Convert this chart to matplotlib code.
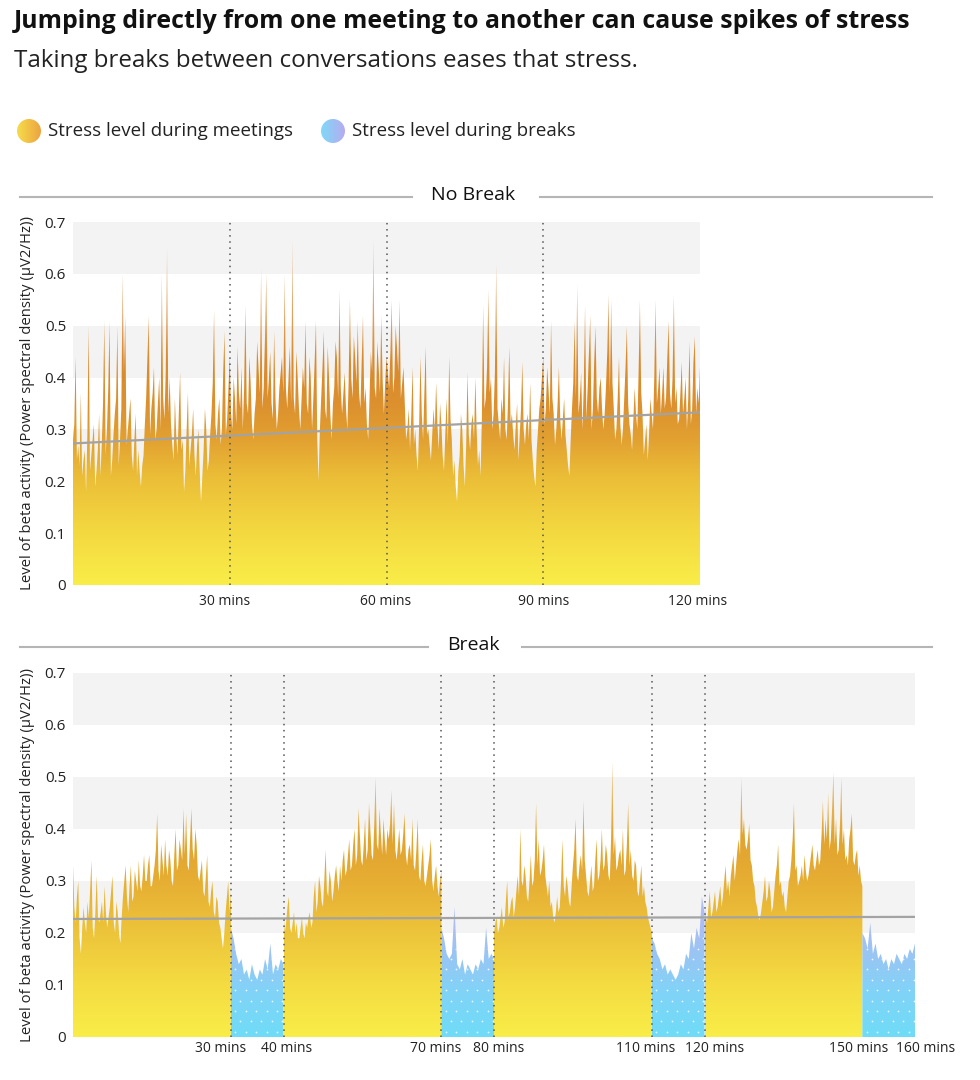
import numpy as np
import matplotlib.pyplot as plt
from matplotlib.colors import LinearSegmentedColormap
from matplotlib.lines import Line2D
from matplotlib.patches import Circle
from matplotlib.transforms import ScaledTranslation, blended_transform_factory

plt.rcParams['font.family'] = ['Open Sans', 'DejaVu Sans']

title = "Jumping directly from one meeting to another can cause spikes of stress"
subtitle = "Taking breaks between conversations eases that stress."
legend_labels = ["Stress level during meetings", "Stress level during breaks"]
ylabel = "Level of beta activity (Power spectral density (\u03bcV2/Hz))"

# ---- No Break panel: beta activity every quarter minute, 0..120 min
no_break = [
    0.28, 0.31, 0.44, 0.24, 0.27, 0.23, 0.37, 0.21, 0.24, 0.26, 0.18, 0.29, 0.50, 0.22, 0.25, 0.28, 0.31, 0.19, 0.22, 0.26,
    0.33, 0.21, 0.27, 0.35, 0.51, 0.25, 0.30, 0.38, 0.51, 0.21, 0.24, 0.29, 0.33, 0.36, 0.50, 0.23, 0.28, 0.34, 0.60, 0.41,
    0.52, 0.27, 0.30, 0.33, 0.36, 0.25, 0.22, 0.28, 0.33, 0.21, 0.26, 0.22, 0.19, 0.23, 0.25, 0.31, 0.36, 0.44, 0.52, 0.29,
    0.34, 0.37, 0.42, 0.28, 0.30, 0.35, 0.40, 0.30, 0.60, 0.36, 0.32, 0.41, 0.65, 0.33, 0.40, 0.31, 0.27, 0.24, 0.36, 0.29,
    0.25, 0.33, 0.41, 0.26, 0.28, 0.18, 0.22, 0.30, 0.37, 0.23, 0.26, 0.29, 0.34, 0.25, 0.21, 0.27, 0.30, 0.22, 0.16, 0.21,
    0.26, 0.34, 0.30, 0.22, 0.24, 0.29, 0.33, 0.39, 0.53, 0.31, 0.28, 0.33, 0.36, 0.27, 0.30, 0.41, 0.49, 0.29, 0.32, 0.38,
    0.44, 0.33, 0.30, 0.40, 0.36, 0.31, 0.46, 0.37, 0.34, 0.42, 0.30, 0.38, 0.54, 0.35, 0.33, 0.44, 0.39, 0.31, 0.28, 0.33,
    0.36, 0.47, 0.42, 0.37, 0.61, 0.34, 0.38, 0.48, 0.60, 0.36, 0.40, 0.45, 0.35, 0.32, 0.49, 0.36, 0.30, 0.33, 0.38, 0.41,
    0.44, 0.37, 0.60, 0.38, 0.34, 0.40, 0.46, 0.35, 0.665, 0.36, 0.33, 0.45, 0.40, 0.34, 0.30, 0.36, 0.42, 0.38, 0.51, 0.35,
    0.33, 0.44, 0.40, 0.30, 0.36, 0.43, 0.51, 0.28, 0.20, 0.30, 0.36, 0.42, 0.49, 0.34, 0.32, 0.46, 0.40, 0.33, 0.28, 0.35,
    0.38, 0.47, 0.44, 0.36, 0.57, 0.38, 0.33, 0.37, 0.41, 0.34, 0.30, 0.39, 0.55, 0.40, 0.36, 0.48, 0.44, 0.39, 0.51, 0.37,
    0.34, 0.43, 0.52, 0.35, 0.38, 0.31, 0.28, 0.36, 0.45, 0.41, 0.665, 0.38, 0.36, 0.47, 0.42, 0.37, 0.52, 0.40, 0.33, 0.39,
    0.44, 0.41, 0.38, 0.45, 0.55, 0.37, 0.40, 0.50, 0.46, 0.41, 0.55, 0.36, 0.39, 0.42, 0.35, 0.28, 0.30, 0.34, 0.26, 0.33,
    0.42, 0.27, 0.30, 0.25, 0.22, 0.31, 0.44, 0.33, 0.28, 0.37, 0.46, 0.29, 0.30, 0.27, 0.24, 0.29, 0.34, 0.30, 0.39, 0.31,
    0.26, 0.35, 0.31, 0.25, 0.22, 0.29, 0.36, 0.27, 0.44, 0.32, 0.28, 0.21, 0.24, 0.19, 0.16, 0.22, 0.25, 0.33, 0.30, 0.23,
    0.19, 0.27, 0.41, 0.29, 0.26, 0.31, 0.33, 0.28, 0.40, 0.30, 0.23, 0.26, 0.21, 0.32, 0.54, 0.34, 0.36, 0.42, 0.57, 0.37,
    0.40, 0.30, 0.33, 0.41, 0.62, 0.34, 0.31, 0.28, 0.36, 0.33, 0.44, 0.30, 0.28, 0.35, 0.46, 0.31, 0.33, 0.29, 0.26, 0.31,
    0.35, 0.24, 0.29, 0.34, 0.43, 0.30, 0.27, 0.31, 0.33, 0.28, 0.39, 0.28, 0.24, 0.21, 0.19, 0.26, 0.30, 0.34, 0.36, 0.40,
    0.44, 0.31, 0.34, 0.42, 0.38, 0.33, 0.51, 0.36, 0.33, 0.27, 0.30, 0.35, 0.42, 0.32, 0.28, 0.32, 0.36, 0.29, 0.26, 0.23,
    0.21, 0.28, 0.34, 0.39, 0.51, 0.36, 0.58, 0.33, 0.36, 0.41, 0.30, 0.38, 0.54, 0.32, 0.38, 0.45, 0.52, 0.30, 0.34, 0.43,
    0.50, 0.36, 0.33, 0.38, 0.40, 0.34, 0.30, 0.33, 0.38, 0.45, 0.56, 0.37, 0.55, 0.39, 0.34, 0.28, 0.30, 0.36, 0.44, 0.31,
    0.27, 0.30, 0.36, 0.42, 0.50, 0.35, 0.31, 0.29, 0.26, 0.32, 0.38, 0.33, 0.30, 0.41, 0.55, 0.37, 0.33, 0.25, 0.28, 0.31,
    0.24, 0.29, 0.36, 0.33, 0.30, 0.40, 0.55, 0.35, 0.38, 0.42, 0.33, 0.37, 0.42, 0.34, 0.36, 0.44, 0.51, 0.37, 0.34, 0.40,
    0.56, 0.35, 0.38, 0.31, 0.32, 0.37, 0.43, 0.33, 0.36, 0.40, 0.30, 0.36, 0.47, 0.31, 0.34, 0.43, 0.48, 0.33, 0.38, 0.35,
    0.42,
]
no_break_trend = [0.273, 0.333]

# ---- Break panel: meetings every quarter minute, breaks every half minute
meet_1 = [
    0.33, 0.25, 0.22, 0.27, 0.30, 0.19, 0.16, 0.21, 0.25, 0.22, 0.20, 0.26, 0.23, 0.28, 0.34, 0.21, 0.19, 0.24, 0.31, 0.23,
    0.22, 0.24, 0.26, 0.22, 0.29, 0.24, 0.21, 0.23, 0.25, 0.28, 0.31, 0.22, 0.20, 0.26, 0.24, 0.20, 0.18, 0.23, 0.27, 0.30,
    0.33, 0.27, 0.24, 0.29, 0.33, 0.26, 0.27, 0.32, 0.30, 0.28, 0.34, 0.29, 0.28, 0.31, 0.35, 0.30, 0.30, 0.33, 0.35, 0.29,
    0.29, 0.31, 0.33, 0.36, 0.43, 0.32, 0.30, 0.37, 0.34, 0.31, 0.38, 0.33, 0.31, 0.36, 0.34, 0.30, 0.29, 0.35, 0.40, 0.32,
    0.33, 0.38, 0.36, 0.34, 0.44, 0.35, 0.43, 0.33, 0.32, 0.38, 0.44, 0.36, 0.34, 0.40, 0.37, 0.31, 0.30, 0.32, 0.34, 0.28,
    0.27, 0.31, 0.35, 0.26, 0.25, 0.28, 0.30, 0.24, 0.23, 0.27, 0.26, 0.22, 0.21, 0.19, 0.17, 0.20, 0.24, 0.27, 0.30, 0.24,
    0.28,
]
brk_1 = [0.21, 0.19, 0.16, 0.14, 0.15, 0.12, 0.13, 0.11, 0.14, 0.12, 0.11, 0.13, 0.12, 0.15, 0.13, 0.18, 0.12, 0.14, 0.13, 0.15, 0.14]
meet_2 = [
    0.24, 0.20, 0.22, 0.25, 0.27, 0.21, 0.20, 0.22, 0.24, 0.20, 0.22, 0.19, 0.19, 0.21, 0.23, 0.20, 0.19, 0.22, 0.21, 0.23,
    0.24, 0.21, 0.22, 0.27, 0.30, 0.24, 0.26, 0.31, 0.29, 0.26, 0.25, 0.30, 0.36, 0.28, 0.27, 0.32, 0.30, 0.26, 0.28, 0.31,
    0.33, 0.30, 0.28, 0.33, 0.30, 0.34, 0.36, 0.31, 0.32, 0.35, 0.38, 0.32, 0.33, 0.37, 0.40, 0.33, 0.35, 0.44, 0.39, 0.34,
    0.33, 0.37, 0.42, 0.34, 0.36, 0.45, 0.40, 0.35, 0.34, 0.41, 0.50, 0.37, 0.36, 0.44, 0.39, 0.35, 0.42, 0.38, 0.35, 0.40,
    0.38, 0.41, 0.475, 0.37, 0.45, 0.36, 0.34, 0.37, 0.40, 0.35, 0.36, 0.39, 0.43, 0.35, 0.33, 0.36, 0.37, 0.34, 0.42, 0.33,
    0.32, 0.36, 0.42, 0.31, 0.30, 0.34, 0.37, 0.30, 0.29, 0.31, 0.33, 0.35, 0.38, 0.30, 0.28, 0.31, 0.33, 0.29, 0.27, 0.30,
    0.32,
]
brk_2 = [0.21, 0.19, 0.16, 0.15, 0.16, 0.25, 0.14, 0.13, 0.15, 0.12, 0.14, 0.13, 0.12, 0.14, 0.13, 0.15, 0.14, 0.21, 0.15, 0.16, 0.15]
meet_3 = [
    0.20, 0.22, 0.23, 0.20, 0.21, 0.23, 0.25, 0.21, 0.22, 0.26, 0.30, 0.23, 0.24, 0.26, 0.27, 0.23, 0.25, 0.28, 0.31, 0.27,
    0.40, 0.30, 0.29, 0.33, 0.31, 0.27, 0.26, 0.30, 0.35, 0.29, 0.30, 0.34, 0.45, 0.33, 0.38, 0.31, 0.32, 0.34, 0.37, 0.31,
    0.29, 0.27, 0.30, 0.25, 0.26, 0.23, 0.22, 0.24, 0.27, 0.24, 0.25, 0.30, 0.38, 0.29, 0.27, 0.31, 0.29, 0.26, 0.25, 0.29,
    0.33, 0.36, 0.42, 0.31, 0.30, 0.33, 0.35, 0.32, 0.455, 0.34, 0.31, 0.28, 0.27, 0.30, 0.33, 0.28, 0.29, 0.34, 0.38, 0.30,
    0.31, 0.34, 0.40, 0.32, 0.33, 0.37, 0.35, 0.31, 0.30, 0.38, 0.53, 0.35, 0.385, 0.32, 0.33, 0.35, 0.36, 0.33, 0.40, 0.31,
    0.32, 0.37, 0.45, 0.33, 0.36, 0.31, 0.30, 0.34, 0.33, 0.28, 0.27, 0.30, 0.33, 0.27, 0.29, 0.26, 0.25, 0.23, 0.22, 0.21,
    0.20,
]
brk_3 = [0.19, 0.18, 0.16, 0.15, 0.13, 0.14, 0.12, 0.13, 0.12, 0.11, 0.12, 0.14, 0.13, 0.16, 0.15, 0.20, 0.17, 0.21, 0.19, 0.27, 0.24]
meet_4 = [
    0.26, 0.23, 0.22, 0.25, 0.28, 0.23, 0.24, 0.26, 0.28, 0.24, 0.25, 0.27, 0.29, 0.25, 0.27, 0.30, 0.33, 0.28, 0.30, 0.27,
    0.31, 0.33, 0.35, 0.30, 0.33, 0.36, 0.38, 0.35, 0.50, 0.39, 0.42, 0.37, 0.36, 0.38, 0.41, 0.34, 0.33, 0.30, 0.29, 0.26,
    0.25, 0.23, 0.225, 0.24, 0.26, 0.28, 0.31, 0.26, 0.27, 0.30, 0.28, 0.24, 0.25, 0.28, 0.31, 0.33, 0.37, 0.29, 0.30, 0.27,
    0.28, 0.25, 0.24, 0.27, 0.30, 0.31, 0.34, 0.38, 0.45, 0.32, 0.33, 0.29, 0.30, 0.31, 0.33, 0.30, 0.35, 0.32, 0.30, 0.31,
    0.33, 0.35, 0.37, 0.33, 0.32, 0.34, 0.36, 0.33, 0.34, 0.39, 0.455, 0.37, 0.42, 0.38, 0.47, 0.36, 0.38, 0.44, 0.51, 0.37,
    0.42, 0.35, 0.36, 0.41, 0.50, 0.37, 0.40, 0.34, 0.35, 0.33, 0.38, 0.40, 0.43, 0.34, 0.33, 0.35, 0.36, 0.31, 0.33, 0.30,
    0.29,
]
brk_4 = [0.20, 0.19, 0.17, 0.22, 0.16, 0.18, 0.15, 0.16, 0.14, 0.15, 0.13, 0.15, 0.14, 0.16, 0.15, 0.14, 0.16, 0.15, 0.17, 0.16, 0.18]
meet_starts = [0, 40, 80, 120]
brk_starts = [30, 70, 110, 150]
break_trend = [0.227, 0.231]

nb_ticks = [30, 60, 90, 120]
b_ticks = [30, 40, 70, 80, 110, 120, 150, 160]
nb_dividers = [30, 60, 90]
b_dividers = [30, 40, 70, 80, 110, 120]

W, H = 980, 1080
FINE = 0.25
COARSE = 0.5


def fx(x):
    return x / W


def fy(y):
    return 1 - y / H


top_cmap = LinearSegmentedColormap.from_list("top", [
    (0.0, "#f9ed48"), (0.15, "#f3d840"), (0.3, "#ebbd37"), (0.4, "#e2a131"),
    (0.5, "#dc902e"), (0.62, "#da8a2c"), (0.75, "#e2a261"), (0.9, "#e9ba8e"), (1.0, "#ecc49c")])
bot_cmap = LinearSegmentedColormap.from_list("bot", [
    (0.0, "#f9ed48"), (0.15, "#f4db41"), (0.3, "#ecc23a"), (0.45, "#e5ab32"),
    (0.55, "#e2a430"), (0.65, "#e7b456"), (0.8, "#edc98e"), (1.0, "#f0d3a6")])
blue_cmap = LinearSegmentedColormap.from_list("blue", [
    (0.0, "#6fdcf8"), (0.12, "#80d3f7"), (0.22, "#98c6f4"), (0.32, "#aebdf2"), (1.0, "#c2c6f2")])


def gradient_fill(ax, x, y, cmap, dots=False):
    poly = ax.fill_between(x, 0, y, facecolor="none", edgecolor="none", zorder=2)
    path = poly.get_paths()[0]
    grad = np.linspace(0, 1, 256).reshape(-1, 1)
    im = ax.imshow(grad, extent=[x[0], x[-1], 0, 0.7], origin="lower", cmap=cmap,
                   aspect="auto", vmin=0, vmax=1, zorder=2, interpolation="bilinear")
    im.set_clip_path(path, transform=ax.transData)
    if dots:
        # sparse white dot texture of the break areas
        gx, gy = np.meshgrid(np.arange(x[0] + 0.8, x[-1], 2.0), np.arange(0.01, 0.3, 0.02))
        gx = gx + (np.arange(gx.shape[0])[:, None] % 2) * 1.0
        sc = ax.scatter(gx.ravel(), gy.ravel(), s=1.6, color="white", alpha=0.85, lw=0, zorder=3)
        sc.set_clip_path(path, transform=ax.transData)


def style_axis(ax, xmax, ticks, dividers, trend, shifts, pad):
    ax.set_xlim(0, xmax)
    ax.set_ylim(0, 0.7)
    for lo in [0.2, 0.4, 0.6]:
        ax.axhspan(lo, lo + 0.1, color="#f3f3f3", zorder=0, lw=0)
    for d in dividers:
        ax.plot([d, d], [0, 0.7], color="#555555", lw=1.1, ls=(0, (1, 3)), zorder=5)
    ax.plot([0, xmax], trend, color="#a3a3a3", lw=1.6, zorder=4)
    ax.set_xticks(ticks)
    ax.tick_params(axis="x", labelbottom=False)
    base = blended_transform_factory(ax.transData, ax.transAxes)
    for t, dx in zip(ticks, shifts):
        ax.text(t, 0, f"{t} mins", fontsize=10, color="#222222", ha="center", va="top",
                transform=base + ScaledTranslation(dx / 100, -pad / 100, fig.dpi_scale_trans))
    ax.set_yticks(np.arange(0, 0.71, 0.1))
    ax.set_yticklabels(["0", "0.1", "0.2", "0.3", "0.4", "0.5", "0.6", "0.7"], fontsize=11, color="#222222")
    ax.tick_params(length=0, pad=5)
    ax.set_ylabel(ylabel, fontsize=10.7, color="#222222", labelpad=7)
    for s in ax.spines.values():
        s.set_visible(False)


fig = plt.figure(figsize=(W / 100, H / 100), dpi=100)
fig.patch.set_facecolor("white")

fig.text(fx(14), fy(21), title, fontsize=17.9, fontweight="bold", va="center", color="#111111")
fig.text(fx(14), fy(61), subtitle, fontsize=17.4, va="center", color="#222222")

# legend
for cx, label, colors in [(29, legend_labels[0], ["#f6dc4a", "#eba23f"]),
                          (333, legend_labels[1], ["#7fd9f8", "#b9a9f0"])]:
    lax = fig.add_axes([fx(cx - 12), fy(131 + 12), 24 / W, 24 / H])
    cm = LinearSegmentedColormap.from_list("leg", colors)
    im = lax.imshow(np.linspace(0, 1, 64).reshape(1, -1), cmap=cm, aspect="auto",
                    extent=[0, 1, 0, 1])
    im.set_clip_path(Circle((0.5, 0.5), 0.5, transform=lax.transAxes))
    lax.axis("off")
    fig.text(fx(cx + 19), fy(131), label, fontsize=13.5, va="center", color="#222222")

# section headers
for y, name, gap in [(197, "No Break", (412, 540)), (647, "Break", (428, 522))]:
    fig.add_artist(Line2D([fx(20), fx(gap[0])], [fy(y), fy(y)], color="#b5b5b5", lw=1.5))
    fig.add_artist(Line2D([fx(gap[1]), fx(932)], [fy(y), fy(y)], color="#b5b5b5", lw=1.5))
    fig.text(fx(473), fy(y - 2), name, fontsize=14, ha="center", va="center", color="#111111")

# No Break panel
ax1 = fig.add_axes([fx(73), fy(585), 627 / W, 363 / H])
t1 = np.arange(len(no_break)) * FINE
gradient_fill(ax1, t1, np.array(no_break), top_cmap)
style_axis(ax1, 120, nb_ticks, nb_dividers, no_break_trend, [-5, -1, 0, -2], 9)

# Break panel
ax2 = fig.add_axes([fx(73), fy(1037), 842 / W, 364 / H])
for start, seg in zip(meet_starts, [meet_1, meet_2, meet_3, meet_4]):
    t = start + np.arange(len(seg)) * FINE
    gradient_fill(ax2, t, np.array(seg), bot_cmap)
for start, seg in zip(brk_starts, [brk_1, brk_2, brk_3, brk_4]):
    t = start + np.arange(len(seg)) * COARSE
    gradient_fill(ax2, t, np.array(seg), blue_cmap, dots=True)
style_axis(ax2, 160, b_ticks, b_dividers, break_trend, [-10, 3, -6, 5, -6, 10, -4, 11], 4)

fig.savefig("out.png", dpi=100, facecolor="white")
